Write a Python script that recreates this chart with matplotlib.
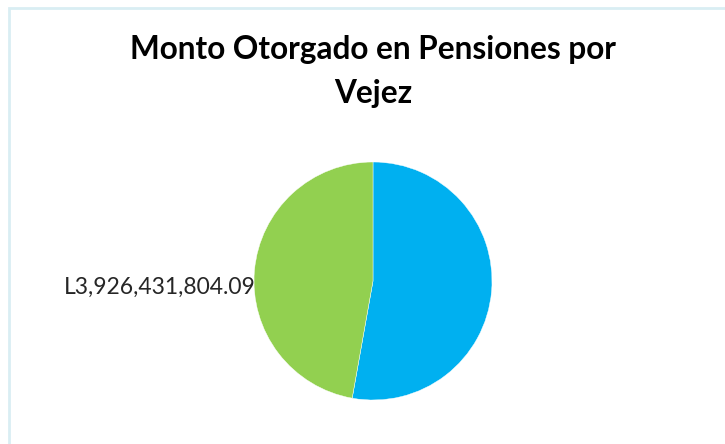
import matplotlib
matplotlib.use("Agg")
import matplotlib.pyplot as plt
from matplotlib.patches import Rectangle

# Monto otorgado (Lempiras); only the green slice value is shown in the chart
categories = ["Hombres", "Mujeres"]
montos = [4392000000.00, 3926431804.09]
colores = ["#00b0f0", "#92d050"]
etiquetas = ["", "L3,926,431,804.09"]

W, H = 725, 444
fig = plt.figure(figsize=(W / 100, H / 100), dpi=100)
fig.patch.set_facecolor("white")

# light chart-area border (Excel style)
fig.patches.append(Rectangle((8.5 / W, -0.1), 1.2, 1 - 8.5 / H + 0.1,
                             transform=fig.transFigure, fill=False,
                             edgecolor="#d9eef3", linewidth=2))

fig.text(373 / W, 1 - 50 / H, "Monto Otorgado en Pensiones por",
         ha="center", va="center", fontsize=22.7, fontweight="bold",
         family="Lato", color="black")
fig.text(373 / W, 1 - 93 / H, "Vejez",
         ha="center", va="center", fontsize=22.7, fontweight="bold",
         family="Lato", color="black")

cx, cy, r = 373, 281, 119
ax = fig.add_axes([(cx - r) / W, (H - cy - r) / H, 2 * r / W, 2 * r / H])
wedges, _ = ax.pie(montos, colors=colores, startangle=90, counterclock=False,
                   wedgeprops=dict(linewidth=0.3, edgecolor="white"))
ax.set_xlim(-1, 1)
ax.set_ylim(-1, 1)
ax.set_aspect("equal")
ax.axis("off")

ax.text(-0.99, -0.05, etiquetas[1], ha="right", va="center",
        fontsize=16.5, family="Lato", color="#262626", clip_on=False)

fig.savefig("out.png", dpi=100)
